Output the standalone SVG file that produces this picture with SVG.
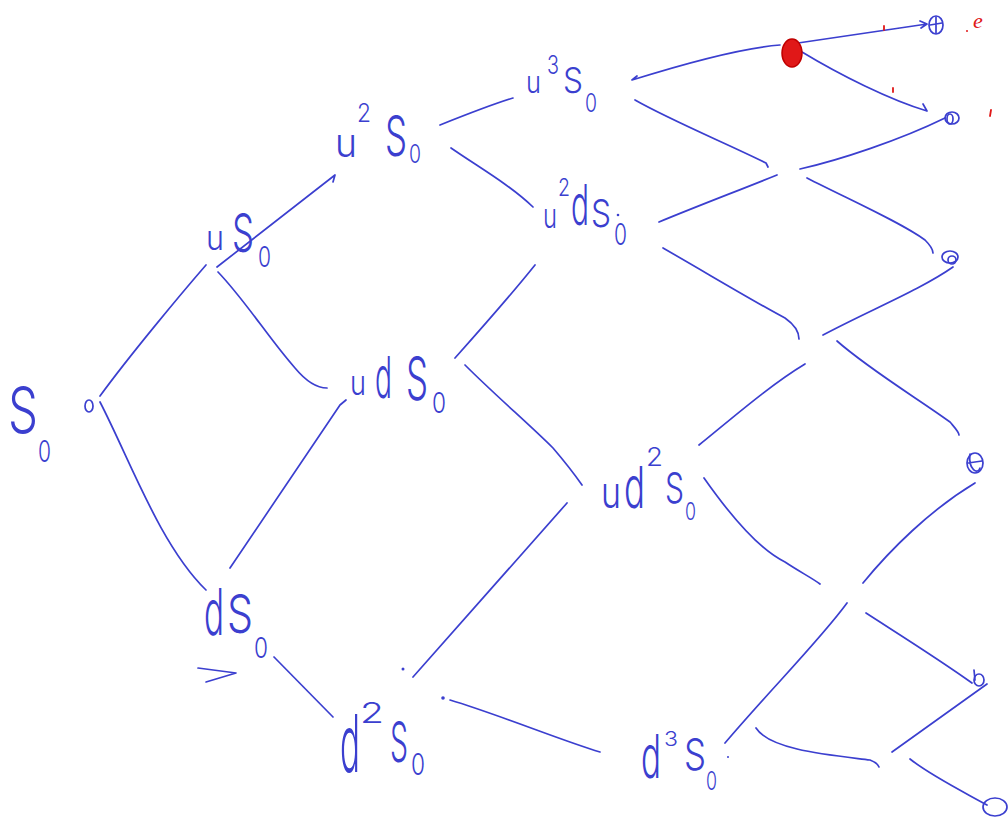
<svg xmlns="http://www.w3.org/2000/svg" width="1008" height="820" viewBox="0 0 1008 820">
<style>
.lbl{font-family:"Inter","Liberation Sans","DejaVu Sans",sans-serif;font-weight:300;fill:#3b3fcf;}
.ln{fill:none;stroke:#3b3fcf;stroke-width:1.7;stroke-linecap:round;stroke-linejoin:round;}
.term{fill:none;stroke:#3b3fcf;stroke-width:1.7;}
.red{fill:none;stroke:#e01818;stroke-width:1.8;stroke-linecap:round;}
.dot{fill:#3b3fcf;}
</style>
<rect width="1008" height="820" fill="#ffffff"/>

<g id="connectors">
<path class="ln" d="M100,396 C130,355 180,295 206,265"/>
<path class="ln" d="M100,402 C130,460 160,545 206,590"/>
<path class="ln" d="M217,267 L335,175 L333,182"/>
<path class="ln" d="M218,272 C245,300 270,340 295,368 C305,380 315,388 327,388"/>
<path class="ln" d="M346,400 L340,405 L230,568"/>
<path class="ln" d="M274,657 L333,717"/>
<path class="ln" d="M440,125 C465,115 490,105 513,98"/>
<path class="ln" d="M451,148 C480,168 510,185 533,207"/>
<path class="ln" d="M455,358 C480,330 515,290 535,265"/>
<path class="ln" d="M465,365 C495,395 530,425 553,448 C565,462 575,475 582,485"/>
<path class="ln" d="M413,677 L567,503"/>
<path class="ln" d="M450,700 C500,715 560,740 600,752"/>
<path class="ln" d="M637,76 L632,80 C680,65 740,48 780,45"/>
<path class="ln" d="M635,100 C670,120 730,145 766,163 L768,167"/>
<path class="ln" d="M800,169 C840,160 900,140 945,118"/>
<path class="ln" d="M659,222 C700,205 740,190 777,175"/>
<path class="ln" d="M807,178 C850,200 900,222 925,240 C930,245 933,250 933,253"/>
<path class="ln" d="M663,248 C710,275 760,305 785,318 C795,325 799,332 799,339"/>
<path class="ln" d="M823,335 C870,310 920,290 953,267"/>
<path class="ln" d="M805,364 C770,385 730,420 699,445"/>
<path class="ln" d="M837,341 C870,370 920,400 950,422 C955,428 959,432 959,435"/>
<path class="ln" d="M704,478 C730,515 760,550 785,562 C800,572 812,578 820,584"/>
<path class="ln" d="M863,583 C890,550 930,510 975,483"/>
<path class="ln" d="M847,603 C820,640 770,690 725,743"/>
<path class="ln" d="M866,613 C900,635 940,660 972,683"/>
<path class="ln" d="M892,752 L987,684"/>
<path class="ln" d="M756,728 C770,750 830,755 870,760 C875,762 878,764 879,767"/>
<path class="ln" d="M910,759 C930,775 960,790 987,805"/>
<path class="ln" d="M798,43 L927,24 M920,21 L927,24 L921,28"/>
<path class="ln" d="M802,52 C840,75 890,100 927,111 M923,104 L927,111"/>
</g>

<g id="node-S0">
<text class="lbl"><tspan x="8" y="433" font-size="64" textLength="30" lengthAdjust="spacingAndGlyphs">S</tspan><tspan x="38" y="462" font-size="30" textLength="13" lengthAdjust="spacingAndGlyphs">0</tspan></text>
<ellipse class="term" cx="89" cy="406" rx="4" ry="6"/>
</g>

<g id="node-uS0">
<text class="lbl"><tspan x="206" y="250" font-size="34" textLength="18" lengthAdjust="spacingAndGlyphs">u</tspan><tspan x="232" y="252" font-size="54" textLength="22" lengthAdjust="spacingAndGlyphs">S</tspan><tspan x="258" y="267" font-size="28" textLength="13" lengthAdjust="spacingAndGlyphs">0</tspan></text>
</g>

<g id="node-u2S0">
<text class="lbl"><tspan x="335" y="157" font-size="40" textLength="22" lengthAdjust="spacingAndGlyphs">u</tspan><tspan x="357" y="122" font-size="26" textLength="14" lengthAdjust="spacingAndGlyphs">2</tspan><tspan x="385" y="156" font-size="56" textLength="22" lengthAdjust="spacingAndGlyphs">S</tspan><tspan x="409" y="163" font-size="26" textLength="12" lengthAdjust="spacingAndGlyphs">0</tspan></text>
</g>

<g id="node-u3S0">
<text class="lbl"><tspan x="526" y="93" font-size="30" textLength="15" lengthAdjust="spacingAndGlyphs">u</tspan><tspan x="547" y="74" font-size="26" textLength="12" lengthAdjust="spacingAndGlyphs">3</tspan><tspan x="563" y="93" font-size="36" textLength="20" lengthAdjust="spacingAndGlyphs">S</tspan><tspan x="585" y="112" font-size="26" textLength="12" lengthAdjust="spacingAndGlyphs">0</tspan></text>
</g>

<g id="node-udS0">
<text class="lbl"><tspan x="350" y="395" font-size="34" textLength="16" lengthAdjust="spacingAndGlyphs">u</tspan><tspan x="375" y="398" font-size="58" textLength="17" lengthAdjust="spacingAndGlyphs">d</tspan><tspan x="406" y="400" font-size="60" textLength="22" lengthAdjust="spacingAndGlyphs">S</tspan><tspan x="432" y="413" font-size="28" textLength="14" lengthAdjust="spacingAndGlyphs">0</tspan></text>
</g>

<g id="node-u2dS0">
<text class="lbl"><tspan x="543" y="228" font-size="34" textLength="14" lengthAdjust="spacingAndGlyphs">u</tspan><tspan x="558" y="196" font-size="24" textLength="12" lengthAdjust="spacingAndGlyphs">2</tspan><tspan x="571" y="225" font-size="56" textLength="18" lengthAdjust="spacingAndGlyphs">d</tspan><tspan x="591" y="227" font-size="38" textLength="20" lengthAdjust="spacingAndGlyphs">S</tspan><tspan x="614" y="245" font-size="30" textLength="13" lengthAdjust="spacingAndGlyphs">0</tspan></text>
<circle class="dot" cx="618" cy="215" r="1.3"/>
</g>

<g id="node-dS0">
<text class="lbl"><tspan x="204" y="635" font-size="64" textLength="20" lengthAdjust="spacingAndGlyphs">d</tspan><tspan x="227" y="633" font-size="54" textLength="26" lengthAdjust="spacingAndGlyphs">S</tspan><tspan x="254" y="658" font-size="28" textLength="14" lengthAdjust="spacingAndGlyphs">0</tspan></text>
<path class="ln" d="M198,668 L236,673 L206,682"/>
</g>

<g id="node-ud2S0">
<text class="lbl"><tspan x="601" y="508" font-size="44" textLength="20" lengthAdjust="spacingAndGlyphs">u</tspan><tspan x="624" y="508" font-size="58" textLength="21" lengthAdjust="spacingAndGlyphs">d</tspan><tspan x="646" y="466" font-size="26" textLength="17" lengthAdjust="spacingAndGlyphs">2</tspan><tspan x="665" y="503" font-size="42" textLength="19" lengthAdjust="spacingAndGlyphs">S</tspan><tspan x="685" y="520" font-size="24" textLength="11" lengthAdjust="spacingAndGlyphs">0</tspan></text>
</g>

<g id="node-d2S0">
<text class="lbl"><tspan x="340" y="772" font-size="80" textLength="20" lengthAdjust="spacingAndGlyphs">d</tspan><tspan x="360" y="723" font-size="28" textLength="24" lengthAdjust="spacingAndGlyphs">2</tspan><tspan x="390" y="762" font-size="56" textLength="18" lengthAdjust="spacingAndGlyphs">S</tspan><tspan x="411" y="775" font-size="30" textLength="14" lengthAdjust="spacingAndGlyphs">0</tspan></text>
<circle class="dot" cx="403" cy="669" r="1.5"/>
<circle class="dot" cx="443" cy="698" r="1.8"/>
</g>

<g id="node-d3S0">
<text class="lbl"><tspan x="641" y="778" font-size="60" textLength="20" lengthAdjust="spacingAndGlyphs">d</tspan><tspan x="664" y="746" font-size="20" textLength="14" lengthAdjust="spacingAndGlyphs">3</tspan><tspan x="684" y="770" font-size="44" textLength="22" lengthAdjust="spacingAndGlyphs">S</tspan><tspan x="706" y="790" font-size="26" textLength="11" lengthAdjust="spacingAndGlyphs">0</tspan></text>
<circle class="dot" cx="728" cy="757" r="1"/>
</g>

<g id="node-red">
<ellipse cx="792" cy="53" rx="10" ry="14" fill="#e01818" stroke="#c00000" stroke-width="1.5"/>
<path class="red" d="M884,26 L884,30 M893,88 L893,92 M991,110 L990,116"/>
<circle cx="967" cy="31" r="1" fill="#e01818"/>
<text x="973" y="28" font-size="22" font-style="italic" font-family="Liberation Serif, serif" fill="#e01818">e</text>
</g>

<g id="node-T1"><ellipse class="term" cx="936" cy="25" rx="7" ry="9"/><path class="ln" d="M930,25 L942,23 M936,17 L936,33"/></g>
<g id="node-T2"><ellipse class="term" cx="952" cy="118" rx="7" ry="6"/><ellipse class="term" cx="950" cy="119" rx="3" ry="5"/></g>
<g id="node-T3"><ellipse class="term" cx="950" cy="257" rx="8" ry="6"/><ellipse class="term" cx="952" cy="260" rx="4" ry="4"/></g>
<g id="node-T4"><ellipse class="term" cx="975" cy="463" rx="8" ry="10"/><path class="ln" d="M968,463 L982,461 M970,454 C968,470 978,475 980,468"/></g>
<g id="node-T5"><ellipse class="term" cx="979" cy="680" rx="5" ry="6"/><path class="ln" d="M975,680 L974,670"/></g>
<g id="node-T6"><ellipse class="term" cx="995" cy="807" rx="12" ry="9"/></g>
</svg>
